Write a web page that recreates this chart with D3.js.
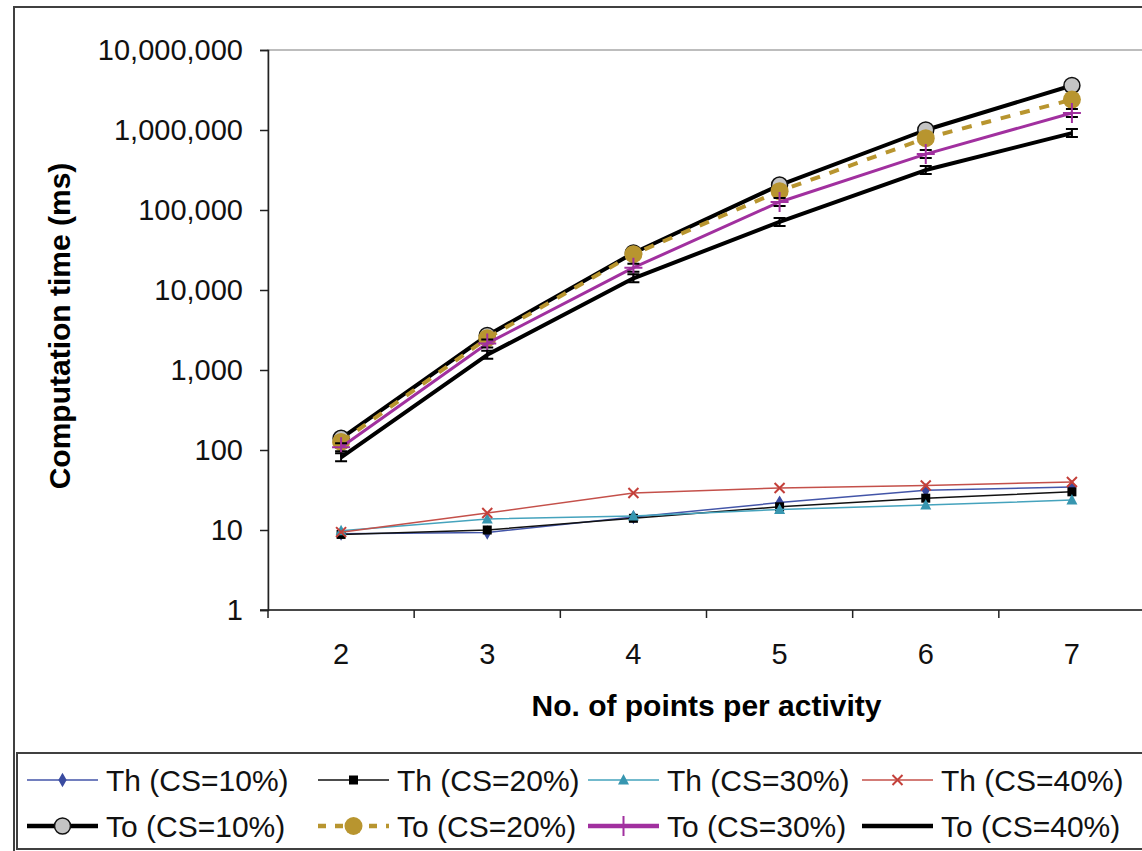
<!DOCTYPE html>
<html>
<head>
<meta charset="utf-8">
<script src="https://cdn.jsdelivr.net/npm/d3@7"></script>
<style>
  body { margin: 0; background: #fff; }
  text { font-family: "Liberation Sans", Arial, sans-serif; }
</style>
</head>
<body>
<svg id="chart" width="1142" height="851"></svg>
<script>
// Number of points per activity (x categories)
const categories = [2, 3, 4, 5, 6, 7];
// Log-scale y ticks (ms)
const yTicks = [1, 10, 100, 1000, 10000, 100000, 1000000, 10000000];

// Computation time (ms), Th series
const thCS10 = [9.0, 9.3, 14.5, 22, 31.5, 34.5];
const thCS20 = [8.8, 10, 14, 19.5, 25, 30];
const thCS30 = [9.8, 13.7, 15, 18, 20.5, 23.7];
const thCS40 = [9.4, 16.3, 29, 33.5, 36, 39.8];
// Computation time (ms), To series
const toCS10 = [140, 2700, 29000, 205000, 1000000, 3600000];
const toCS20 = [126, 2500, 28000, 172000, 790000, 2400000];
const toCS30 = [108, 2150, 19000, 126000, 500000, 1630000];
const toCS40 = [81, 1550, 14000, 71000, 316000, 915000];

const seriesNames = ["Th (CS=10%)", "Th (CS=20%)", "Th (CS=30%)", "Th (CS=40%)",
                     "To (CS=10%)", "To (CS=20%)", "To (CS=30%)", "To (CS=40%)"];

const series = [
  { name: seriesNames[0], values: thCS10, color: "#4355a8", width: 1.5, lw: 1.5, dash: null, marker: "diamond", mcolor: "#3a4ba0" },
  { name: seriesNames[1], values: thCS20, color: "#111", width: 1.5, lw: 1.5, dash: null, marker: "square", mcolor: "#000" },
  { name: seriesNames[2], values: thCS30, color: "#45a3bd", width: 1.5, lw: 1.5, dash: null, marker: "triangle", mcolor: "#3796b0" },
  { name: seriesNames[3], values: thCS40, color: "#c4504a", width: 1.5, lw: 1.5, dash: null, marker: "x", mcolor: "#c4403a" },
  { name: seriesNames[4], values: toCS10, color: "#000", width: 4, lw: 4.5, dash: null, marker: "grayCircle", mcolor: "#c0c0c0" },
  { name: seriesNames[5], values: toCS20, color: "#b8952f", width: 4, lw: 4.5, dash: "10,10", marker: "goldCircle", mcolor: "#b8952f" },
  { name: seriesNames[6], values: toCS30, color: "#a1309f", width: 3, lw: 4.5, dash: null, marker: "plusBar", mcolor: "#a1309f" },
  { name: seriesNames[7], values: toCS40, color: "#000", width: 4, lw: 4.5, dash: null, marker: "ibeam", mcolor: "#000" }
];

const svg = d3.select("#chart");

// Outer chart frame
svg.append("rect")
  .attr("x", 14).attr("y", 7).attr("width", 1145).attr("height", 850)
  .attr("fill", "#fff").attr("stroke", "#404040").attr("stroke-width", 2);

const plot = { left: 268, right: 1145, top: 50, bottom: 610 };

const xBand = d3.scaleBand().domain(categories).range([plot.left, plot.right]).paddingInner(0).paddingOuter(0);
const x = c => xBand(c) + xBand.bandwidth() / 2;
const y = d3.scaleLog().domain([1, 1e7]).range([plot.bottom, plot.top]);

// Plot area border
svg.append("rect")
  .attr("x", plot.left).attr("y", plot.top)
  .attr("width", plot.right - plot.left).attr("height", plot.bottom - plot.top)
  .attr("fill", "none").attr("stroke", "#a8a8a8").attr("stroke-width", 1.5);

// Y axis
const yAxis = d3.axisLeft(y).tickValues(yTicks).tickFormat(d3.format(",")).tickSize(8).tickPadding(17);
const gy = svg.append("g").attr("transform", `translate(${plot.left},0)`).call(yAxis);
gy.select(".domain").attr("stroke", "#222").attr("stroke-width", 1.5);
gy.selectAll(".tick line").attr("stroke", "#222").attr("stroke-width", 1.5);
gy.selectAll(".tick text").attr("font-size", 29).attr("fill", "#111")
  .style("font-family", '"Liberation Sans", Arial, sans-serif');

// X axis: ticks at category boundaries, labels at category centres
const gx = svg.append("g").attr("transform", `translate(0,${plot.bottom})`);
gx.append("line").attr("x1", plot.left - 8).attr("x2", plot.right)
  .attr("stroke", "#222").attr("stroke-width", 1.5);
const bounds = categories.map(c => xBand(c)).concat([xBand(categories[categories.length - 1]) + xBand.bandwidth()]);
gx.selectAll("line.tk").data(bounds).join("line").attr("class", "tk")
  .attr("x1", d => d).attr("x2", d => d).attr("y1", 0).attr("y2", 8)
  .attr("stroke", "#222").attr("stroke-width", 1.5);
gx.selectAll("text").data(categories).join("text")
  .attr("x", d => x(d)).attr("y", 54).attr("text-anchor", "middle")
  .attr("font-size", 29).attr("fill", "#111").text(d => d);

// Axis titles
svg.append("text").attr("x", (plot.left + plot.right) / 2).attr("y", 716)
  .attr("text-anchor", "middle").attr("font-size", 30).attr("font-weight", "bold")
  .text("No. of points per activity");
svg.append("text").attr("transform", `translate(70,${(plot.top + plot.bottom) / 2 - 4}) rotate(-90)`)
  .attr("text-anchor", "middle").attr("font-size", 30).attr("font-weight", "bold")
  .text("Computation time (ms)");

// Marker drawing
function drawMarker(g, type, cx, cy, s, legend) {
  switch (type) {
    case "diamond":
      g.append("path").attr("d", d3.symbol(d3.symbolDiamond, 60)()).attr("transform", `translate(${cx},${cy})`)
        .attr("fill", s.mcolor);
      break;
    case "square":
      g.append("rect").attr("x", cx - 4.5).attr("y", cy - 4.5).attr("width", 9).attr("height", 9).attr("fill", "#000");
      break;
    case "triangle":
      g.append("path").attr("d", `M${cx},${cy - 6}L${cx + 5.5},${cy + 4.5}L${cx - 5.5},${cy + 4.5}Z`).attr("fill", s.mcolor);
      break;
    case "x":
      g.append("path").attr("d", `M${cx - 5},${cy - 5}L${cx + 5},${cy + 5}M${cx - 5},${cy + 5}L${cx + 5},${cy - 5}`)
        .attr("stroke", s.mcolor).attr("stroke-width", 2).attr("fill", "none");
      break;
    case "grayCircle":
      g.append("circle").attr("cx", cx).attr("cy", cy).attr("r", 8)
        .attr("fill", "#c4c4c4").attr("stroke", "#111").attr("stroke-width", 1.5);
      break;
    case "goldCircle":
      g.append("circle").attr("cx", cx).attr("cy", cy).attr("r", 9).attr("fill", s.mcolor);
      break;
    case "plusBar":
      if (!legend) {
        g.append("path").attr("d", `M${cx - 6},${cy - 4}H${cx + 6}M${cx - 6},${cy + 4}H${cx + 6}`)
          .attr("stroke", "#000").attr("stroke-width", 2);
      }
      g.append("path").attr("d", `M${cx - 9},${cy}H${cx + 9}M${cx},${cy - 10}V${cy + 10}`)
        .attr("stroke", s.mcolor).attr("stroke-width", 2);
      break;
    case "ibeam":
      if (!legend) {
        g.append("path").attr("d", `M${cx - 6},${cy - 4}H${cx + 6}M${cx - 6},${cy + 4}H${cx + 6}M${cx},${cy - 4}V${cy + 4}`)
          .attr("stroke", "#000").attr("stroke-width", 2);
      }
      break;
  }
}

// Series lines and markers
const line = d3.line().x((d, i) => x(categories[i])).y(d => y(d));
series.forEach(s => {
  const g = svg.append("g");
  g.append("path").datum(s.values).attr("d", line)
    .attr("fill", "none").attr("stroke", s.color).attr("stroke-width", s.width)
    .attr("stroke-dasharray", s.dash).attr("stroke-linejoin", "round");
  s.values.forEach((v, i) => drawMarker(g, s.marker, x(categories[i]), y(v), s, false));
});

// Legend
svg.append("rect").attr("x", 17).attr("y", 753).attr("width", 1140).attr("height", 96)
  .attr("fill", "#fff").attr("stroke", "#404040").attr("stroke-width", 2);
const colX = [27, 318, 588, 862];
const rowY = [780, 826];
series.forEach((s, i) => {
  const col = i % 4, row = Math.floor(i / 4);
  const g = svg.append("g");
  const x0 = colX[col], x1 = x0 + 71, cy = rowY[row];
  g.append("line").attr("x1", x0).attr("x2", x1).attr("y1", cy).attr("y2", cy)
    .attr("stroke", s.color).attr("stroke-width", s.lw).attr("stroke-dasharray", s.dash ? "8,9" : null);
  drawMarker(g, s.marker, (x0 + x1) / 2, cy, s, true);
  g.append("text").attr("x", x1 + 8).attr("y", cy + 11).attr("font-size", 30).attr("fill", "#111").text(s.name);
});
</script>
</body>
</html>
